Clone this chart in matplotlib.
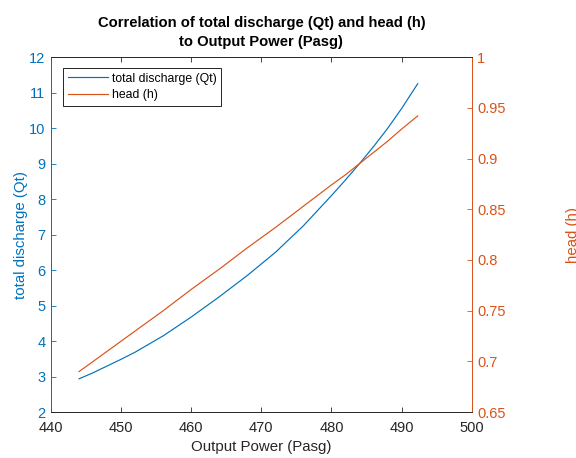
import matplotlib
matplotlib.use("Agg")
import matplotlib.pyplot as plt

# Output power samples and the two quantities plotted against it
pasg = [444, 446, 448, 450, 452, 456, 460, 464, 468, 472, 476, 480, 482, 484, 486, 488, 490, 492.3]
qt = [2.94, 3.11, 3.30, 3.49, 3.69, 4.15, 4.68, 5.25, 5.85, 6.50, 7.25, 8.10, 8.54, 9.00, 9.48, 9.99, 10.55, 11.25]
head = [0.690, 0.700, 0.710, 0.720, 0.730, 0.750, 0.771, 0.791, 0.812, 0.832, 0.853, 0.874,
        0.884, 0.895, 0.906, 0.917, 0.929, 0.942]

BLUE = "#0072BD"
ORANGE = "#D95319"
DARK = "#262626"

plt.rcParams["font.family"] = ["Liberation Sans", "DejaVu Sans"]

fig = plt.figure(figsize=(5.76, 4.58), dpi=100)
ax = fig.add_axes([0.0885, 0.100, 0.7305, 0.7755])
ax2 = ax.twinx()

l1, = ax.plot(pasg, qt, color=BLUE, lw=0.85, label="total discharge (Qt)")
l2, = ax2.plot(pasg, head, color=ORANGE, lw=0.85, label="head (h)")

ax.set_xlim(440, 500)
ax.set_ylim(2, 12)
ax2.set_ylim(0.65, 1.0)
ax.set_xticks(range(440, 501, 10))
ax.set_yticks(range(2, 13))
ax2.set_yticks([0.65, 0.7, 0.75, 0.8, 0.85, 0.9, 0.95, 1.0])
ax2.set_yticklabels(["0.65", "0.7", "0.75", "0.8", "0.85", "0.9", "0.95", "1"])

ax.tick_params(axis="x", direction="in", top=True, length=3.5, width=0.6,
               colors=DARK, labelsize=10.5, pad=6)
ax.tick_params(axis="y", direction="in", length=3.5, width=0.6,
               colors=BLUE, labelsize=10.5, pad=4)
ax2.tick_params(axis="y", direction="in", length=3.5, width=0.6,
                colors=ORANGE, labelsize=10.5, pad=4)

for a in (ax, ax2):
    a.spines["top"].set_color(DARK)
    a.spines["bottom"].set_color(DARK)
    a.spines["left"].set_color(BLUE)
    a.spines["right"].set_color(ORANGE)
    for s in a.spines.values():
        s.set_linewidth(0.6)

ax.set_xlabel("Output Power (Pasg)", fontsize=10.8, color=DARK, labelpad=4)
ax.set_ylabel("total discharge (Qt)", fontsize=10.8, color=BLUE, labelpad=1)
# right label sits at the figure edge and is partly cut off
ax2.set_ylabel("head (h)", fontsize=10.8, color=ORANGE, labelpad=43)
ax.set_title("Correlation of total discharge (Qt) and head (h)\nto Output Power (Pasg)",
             fontsize=10.6, fontweight="bold", color="black", pad=8, linespacing=1.45)

leg = ax.legend(handles=[l1, l2], loc="upper left", fontsize=8.8,
                bbox_to_anchor=(0.028, 0.97), fancybox=False, framealpha=1,
                edgecolor="black", handlelength=3.3, handletextpad=0.3,
                borderpad=0.4, labelspacing=0.35, borderaxespad=0)
leg.get_frame().set_linewidth(0.6)

fig.savefig("out.png", dpi=100)
